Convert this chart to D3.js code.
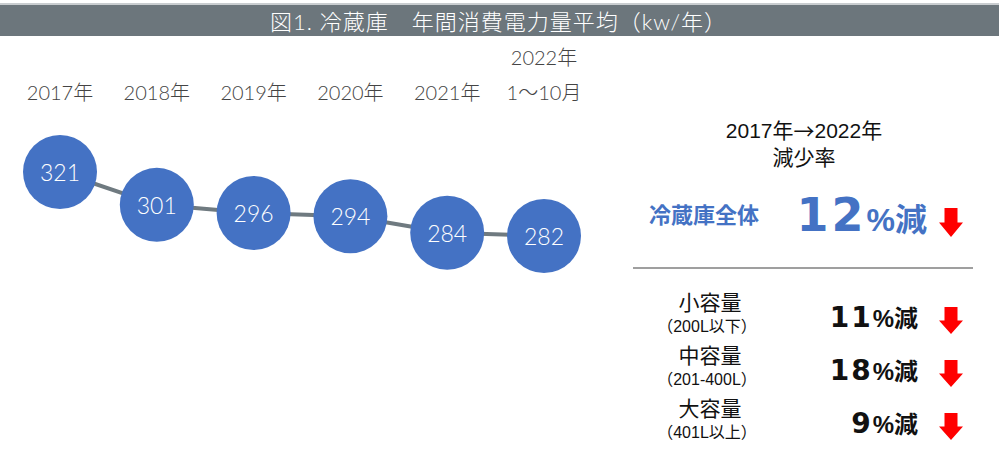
<!DOCTYPE html>
<html>
<head>
<meta charset="utf-8">
<script src="https://cdn.jsdelivr.net/npm/d3@7"></script>
<style>
  body { margin: 0; background: #fff; }
</style>
</head>
<body>
<div id="chart"></div>
<script>
// data
var years = ["2017年", "2018年", "2019年", "2020年", "2021年", "1〜10月"];
var yearsTop = ["", "", "", "", "", "2022年"];
var kwh = [321, 301, 296, 294, 284, 282];

var segNames = ["小容量", "中容量", "大容量"];
var segSub = ["（200L以下）", "（201-400L）", "（401L以上）"];
var segPct = [11, 18, 9];
var totalLabel = "冷蔵庫全体";
var totalPct = 12;

var W = 999, H = 461;
var blue = "#4472c4", red = "#ff0000";
var lato = "Lato, 'Noto Sans CJK JP', sans-serif";
var jp = "'Liberation Sans', 'Noto Sans CJK JP', sans-serif";
var cjk = "'Noto Sans CJK JP', sans-serif";
var bignum = "'DejaVu Sans', sans-serif";

var svg = d3.select("#chart").append("svg")
    .attr("width", W).attr("height", H)
    .style("font-family", lato);

// title bar
svg.append("rect").attr("x", 0).attr("y", 3).attr("width", W).attr("height", 2).attr("fill", "#c9cdd0");
svg.append("rect").attr("x", 0).attr("y", 5).attr("width", W).attr("height", 31).attr("fill", "#6c767c");
svg.append("text")
    .attr("x", W / 2 - 1).attr("y", 21)
    .attr("text-anchor", "middle").attr("dominant-baseline", "central")
    .attr("fill", "#fff").attr("font-size", 22).attr("font-weight", 300)
    .attr("letter-spacing", 1)
    .text("図1. 冷蔵庫\u3000年間消費電力量平均（kw/年）");

// scales
var x = d3.scalePoint().domain(years).range([60, 544]);
var y = d3.scaleLinear().domain([282, 321]).range([236, 172]);

// year labels
svg.append("g").selectAll("text")
  .data(years)
  .enter().append("text")
    .attr("x", d => x(d)).attr("y", 92)
    .attr("text-anchor", "middle").attr("dominant-baseline", "central")
    .attr("font-size", 20).attr("font-weight", 300).attr("fill", "#444")
    .text(d => d);
svg.append("g").selectAll("text")
  .data(yearsTop)
  .enter().append("text")
    .attr("x", (d, i) => x(years[i])).attr("y", 57)
    .attr("text-anchor", "middle").attr("dominant-baseline", "central")
    .attr("font-size", 20).attr("font-weight", 300).attr("fill", "#444")
    .text(d => d);

// line + bubbles
var pts = kwh.map((v, i) => [x(years[i]), y(v)]);
svg.append("path")
    .attr("d", d3.line()(pts))
    .attr("fill", "none").attr("stroke", "#6f7a80").attr("stroke-width", 4);

var g = svg.append("g").selectAll("g")
  .data(kwh)
  .enter().append("g")
    .attr("transform", (d, i) => "translate(" + x(years[i]) + "," + y(d) + ")");
g.append("ellipse").attr("rx", 37).attr("ry", 37).attr("fill", blue);
g.append("text")
    .attr("text-anchor", "middle").attr("dominant-baseline", "central")
    .attr("fill", "#fff").attr("font-size", 23).attr("font-weight", 300)
    .text(d => d);

// right panel
var head = svg.append("text").attr("x", 804).attr("y", 130)
    .attr("text-anchor", "middle").attr("dominant-baseline", "central")
    .style("font-family", jp).attr("font-size", 21).attr("fill", "#111");
head.append("tspan").text("2017年");
head.append("tspan").style("font-family", cjk).text("→");
head.append("tspan").text("2022年");
svg.append("text").attr("x", 804).attr("y", 157)
    .attr("text-anchor", "middle").attr("dominant-baseline", "central")
    .style("font-family", jp).attr("font-size", 21).attr("fill", "#111")
    .text("減少率");

svg.append("text").attr("x", 704).attr("y", 215)
    .attr("text-anchor", "middle").attr("dominant-baseline", "central")
    .style("font-family", jp).attr("font-size", 22).attr("font-weight", 700).attr("fill", blue)
    .text(totalLabel);

var tot = svg.append("text").attr("x", 927).attr("y", 231)
    .attr("text-anchor", "end")
    .style("font-family", jp).attr("font-weight", 700).attr("fill", blue);
tot.append("tspan").style("font-family", bignum).attr("font-size", 46)
    .attr("letter-spacing", 3).text(totalPct);
tot.append("tspan").attr("font-size", 32).text("%減");

function arrow(cx, top, bottom) {
  var sw = 6.5, hw = 12, hy = top + (bottom - top) * 0.5;
  return "M" + (cx - sw) + "," + top + "H" + (cx + sw) + "V" + hy + "H" + (cx + hw) +
    "L" + cx + "," + bottom + "L" + (cx - hw) + "," + hy + "H" + (cx - sw) + "Z";
}
svg.append("path").attr("d", arrow(951, 208, 237)).attr("fill", red);

svg.append("line")
    .attr("x1", 633).attr("x2", 973).attr("y1", 268).attr("y2", 268)
    .attr("stroke", "#7f7f7f").attr("stroke-width", 1.5);

// segment rows
var rowY = d3.scalePoint().domain(segNames).range([316, 422]);
var rows = svg.append("g").selectAll("g")
  .data(segNames)
  .enter().append("g")
    .attr("transform", d => "translate(0," + rowY(d) + ")");
rows.append("text").attr("x", 710).attr("y", -14)
    .attr("text-anchor", "middle").attr("dominant-baseline", "central")
    .style("font-family", jp).attr("font-size", 21).attr("fill", "#111")
    .text(d => d);
rows.append("text").attr("x", 707).attr("y", 10)
    .attr("text-anchor", "middle").attr("dominant-baseline", "central")
    .style("font-family", jp).attr("font-size", 16).attr("fill", "#111")
    .text((d, i) => segSub[i]);
var pct = rows.append("text").attr("x", 918).attr("y", 11)
    .attr("text-anchor", "end")
    .style("font-family", jp).attr("font-weight", 700).attr("fill", "#111");
pct.append("tspan").style("font-family", bignum).attr("font-size", 28)
    .attr("letter-spacing", 2).text((d, i) => segPct[i]);
pct.append("tspan").attr("font-size", 24).text("%減");
rows.append("path").attr("d", arrow(951, -9, 18)).attr("fill", red);
</script>
</body>
</html>
